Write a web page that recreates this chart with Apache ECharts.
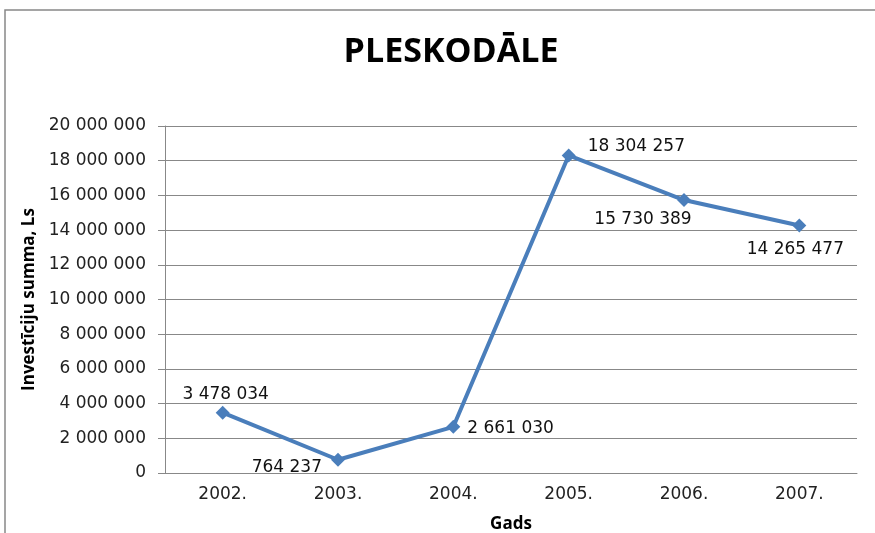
<!DOCTYPE html>
<html>
<head>
<meta charset="utf-8">
<style>
	html, body { margin: 0; padding: 0; background: #fff; }
	#chart { width: 875px; height: 533px; }
</style>
</head>
<body>
<div id="chart"></div>
<script src="https://cdn.jsdelivr.net/npm/echarts@6/dist/echarts.min.js"></script>
<script>
// data
var years = ['2002.', '2003.', '2004.', '2005.', '2006.', '2007.'];
var amounts = [3478034, 764237, 2661030, 18304257, 15730389, 14265477];

// where each value label sits next to its point
var labelPlace = [
	{ position: 'top', offset: [3, 2] },
	{ position: 'left', offset: [-4, 8] },
	{ position: 'right', offset: [2, 2] },
	{ position: 'right', offset: [7, -9] },
	{ position: 'bottom', offset: [-41, -1] },
	{ position: 'bottom', offset: [-4, 4] }
];

function fmt(v) {
	return String(v).replace(/\B(?=(\d{3})+(?!\d))/g, ' ');
}

var font = 'Open Sans';
var numFont = 'DejaVu Sans';
var myChart = echarts.init(document.getElementById('chart'));
var option = {
	animation: false,
	title: {
		text: 'PLESKODĀLE',
		left: 446,
		textAlign: 'center',
		top: 30,
		textStyle: { fontFamily: font, fontSize: 34, fontWeight: 'bold', color: '#000' }
	},
	graphic: [{
		type: 'rect',
		shape: { x: 5, y: 10, width: 900, height: 600 },
		style: { fill: 'none', stroke: '#888', lineWidth: 1.5 }
	}],
	grid: { left: 165, right: 18, top: 126, bottom: 60, outerBoundsMode: 'none' },
	xAxis: {
		type: 'category',
		data: years,
		boundaryGap: true,
		name: 'Gads',
		nameLocation: 'middle',
		nameGap: 43,
		nameTextStyle: { fontFamily: font, fontSize: 17, fontWeight: 'bold', color: '#000' },
		axisLine: { lineStyle: { color: '#888', width: 1 } },
		axisTick: { alignWithLabel: false, length: 7, lineStyle: { color: '#888' } },
		axisLabel: { fontFamily: numFont, fontSize: 17, color: '#222', margin: 13 }
	},
	yAxis: {
		type: 'value',
		min: 0,
		max: 20000000,
		interval: 2000000,
		name: 'Investīciju summa, Ls',
		nameLocation: 'middle',
		nameGap: 123,
		nameTextStyle: { fontFamily: font, fontSize: 17, fontWeight: 'bold', color: '#000' },
		axisLine: { show: true, lineStyle: { color: '#888', width: 1 } },
		axisTick: { show: true, length: 7, lineStyle: { color: '#888' } },
		splitLine: { lineStyle: { color: '#888', width: 1 } },
		axisLabel: { fontFamily: numFont, fontSize: 17, color: '#222', margin: 19, formatter: fmt }
	},
	series: [{
		type: 'line',
		data: amounts.map(function (v, i) {
			return {
				value: v,
				label: {
					position: labelPlace[i].position,
					offset: labelPlace[i].offset
				}
			};
		}),
		symbol: 'diamond',
		symbolSize: 14,
		lineStyle: { color: '#4a7ebb', width: 4 },
		itemStyle: { color: '#4a7ebb' },
		label: {
			show: true,
			fontFamily: numFont,
			fontSize: 17,
			color: '#111',
			formatter: function (p) { return fmt(p.value); }
		}
	}]
};
myChart.setOption(option);
</script>
</body>
</html>
